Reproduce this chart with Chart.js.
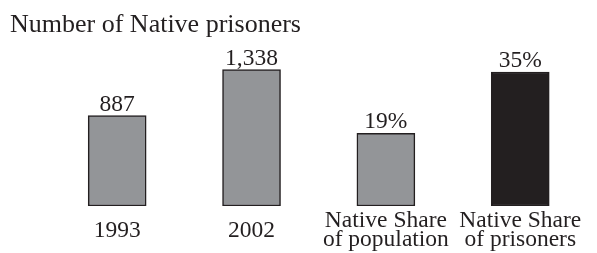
<!DOCTYPE html>
<html>
<head>
<meta charset="utf-8">
<script src="https://cdn.jsdelivr.net/npm/chart.js@4"></script>
<style>
html, body { margin: 0; padding: 0; background: #fff; }
</style>
</head>
<body>
<canvas id="prisonChart" width="597" height="253"></canvas>
<script>
// chart values
const categories = [['1993'], ['2002'], ['Native Share', 'of population'], ['Native Share', 'of prisoners']];
const prisonerCounts = [887, 1338, null, null];
const sharePercents = [null, null, 19, 35];
const titleText = 'Number of Native prisoners';

const serif = '"Liberation Serif", "Times New Roman", serif';
const ink = '#231f20';
const grey = '#939598';

// draws the number above each bar
const valueLabels = {
    id: 'valueLabels',
    afterDatasetsDraw(chart) {
        const ctx = chart.ctx;
        ctx.save();
        ctx.font = '23.5px ' + serif;
        ctx.fillStyle = ink;
        ctx.textAlign = 'center';
        ctx.textBaseline = 'alphabetic';
        chart.data.datasets.forEach((ds, di) => {
            chart.getDatasetMeta(di).data.forEach((bar, i) => {
                const v = ds.data[i];
                if (v === null || v === undefined) return;
                const text = di === 0 ? v.toLocaleString('en-US') : v + '%';
                ctx.fillText(text, bar.x, bar.y - 5);
            });
        });
        ctx.restore();
    }
};

const ctx = document.getElementById('prisonChart').getContext('2d');
new Chart(ctx, {
    type: 'bar',
    data: {
        labels: categories,
        datasets: [{
            label: 'Prisoners',
            data: prisonerCounts,
            yAxisID: 'y',
            backgroundColor: grey,
            borderColor: ink,
            borderWidth: 1.5,
            borderSkipped: false,
            barThickness: 58,
            grouped: false
        }, {
            label: 'Share',
            data: sharePercents,
            yAxisID: 'y2',
            backgroundColor: [grey, grey, grey, ink],
            borderColor: ink,
            borderWidth: 1.5,
            borderSkipped: false,
            barThickness: 58,
            grouped: false
        }]
    },
    options: {
        responsive: false,
        animation: false,
        devicePixelRatio: 1,
        layout: { padding: { left: 10, right: 6, top: 0, bottom: 0 } },
        plugins: {
            legend: { display: false },
            tooltip: { enabled: false },
            title: {
                display: true,
                text: titleText,
                align: 'start',
                color: ink,
                font: { family: serif, size: 26, weight: 'normal' },
                padding: { top: 10, bottom: 9 }
            }
        },
        scales: {
            x: {
                grid: { display: false, drawTicks: false },
                border: { display: false },
                ticks: {
                    color: ink,
                    font: { family: serif, size: 23.5, lineHeight: 0.8 },
                    crossAlign: 'center',
                    padding: 15,
                    maxRotation: 0,
                    autoSkip: false
                },
                afterFit: s => { s.height = 47; }
            },
            y: {
                min: 0,
                max: 1529,
                grid: { display: false, drawTicks: false },
                border: { display: false },
                ticks: { display: false },
                afterFit: s => { s.width = 40; }
            },
            y2: {
                min: 0,
                max: 40.7,
                position: 'right',
                display: false
            }
        }
    },
    plugins: [valueLabels]
});
</script>
</body>
</html>
